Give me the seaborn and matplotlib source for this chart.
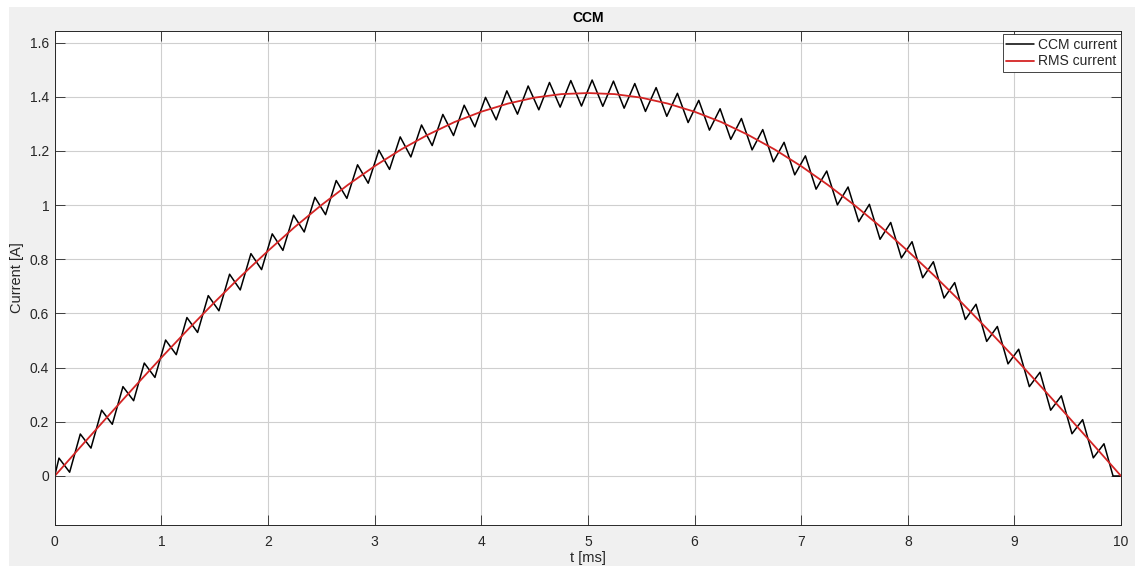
import numpy as np
import pandas as pd
import matplotlib
matplotlib.use("Agg")
import matplotlib.pyplot as plt
from matplotlib.patches import Rectangle
from matplotlib.ticker import FuncFormatter
import seaborn as sns

# switching instants of the CCM inductor current (ms) and values (A)
peak_t = [0.04, 0.24, 0.44, 0.64, 0.84, 1.04, 1.24, 1.44, 1.64, 1.84,
          2.04, 2.24, 2.44, 2.64, 2.84, 3.04, 3.24, 3.44, 3.64, 3.84,
          4.04, 4.24, 4.44, 4.64, 4.84, 5.04, 5.24, 5.44, 5.64, 5.84,
          6.04, 6.24, 6.44, 6.64, 6.84, 7.04, 7.24, 7.44, 7.64, 7.84,
          8.04, 8.24, 8.44, 8.64, 8.84, 9.04, 9.24, 9.44, 9.64, 9.84]
peak_i = [0.066, 0.155, 0.243, 0.330, 0.417, 0.502, 0.585, 0.666, 0.745, 0.821,
          0.894, 0.963, 1.029, 1.091, 1.149, 1.203, 1.252, 1.296, 1.335, 1.369,
          1.398, 1.422, 1.440, 1.453, 1.460, 1.462, 1.458, 1.449, 1.434, 1.413,
          1.387, 1.356, 1.320, 1.279, 1.232, 1.182, 1.126, 1.067, 1.003, 0.936,
          0.865, 0.791, 0.714, 0.634, 0.552, 0.468, 0.383, 0.296, 0.208, 0.119]
trough_t = [0.14, 0.34, 0.54, 0.74, 0.94, 1.14, 1.34, 1.54, 1.74, 1.94,
            2.14, 2.34, 2.54, 2.74, 2.94, 3.14, 3.34, 3.54, 3.74, 3.94,
            4.14, 4.34, 4.54, 4.74, 4.94, 5.14, 5.34, 5.54, 5.74, 5.94,
            6.14, 6.34, 6.54, 6.74, 6.94, 7.14, 7.34, 7.54, 7.74, 7.94,
            8.14, 8.34, 8.54, 8.74, 8.94, 9.14, 9.34, 9.54, 9.74]
trough_i = [0.014, 0.103, 0.191, 0.278, 0.364, 0.448, 0.530, 0.610, 0.687, 0.762,
            0.833, 0.901, 0.965, 1.025, 1.081, 1.132, 1.178, 1.220, 1.257, 1.289,
            1.315, 1.336, 1.352, 1.362, 1.366, 1.365, 1.358, 1.346, 1.328, 1.305,
            1.277, 1.243, 1.204, 1.160, 1.112, 1.059, 1.001, 0.939, 0.874, 0.805,
            0.732, 0.657, 0.578, 0.497, 0.414, 0.330, 0.243, 0.156, 0.067]
start_t, start_i = [0.0], [0.0]
end_t, end_i = [9.925, 10.0], [0.0, 0.0]

rms_t = [0.0, 0.25, 0.5, 0.75, 1.0, 1.25, 1.5, 1.75, 2.0, 2.25,
         2.5, 2.75, 3.0, 3.25, 3.5, 3.75, 4.0, 4.25, 4.5, 4.75,
         5.0, 5.25, 5.5, 5.75, 6.0, 6.25, 6.5, 6.75, 7.0, 7.25,
         7.5, 7.75, 8.0, 8.25, 8.5, 8.75, 9.0, 9.25, 9.5, 9.75, 10.0]
rms_i = [0.0, 0.111, 0.221, 0.330, 0.437, 0.541, 0.642, 0.739, 0.831, 0.919,
         1.000, 1.075, 1.144, 1.206, 1.260, 1.307, 1.345, 1.375, 1.397, 1.410,
         1.414, 1.410, 1.397, 1.375, 1.345, 1.307, 1.260, 1.206, 1.144, 1.075,
         1.000, 0.919, 0.831, 0.739, 0.642, 0.541, 0.437, 0.330, 0.221, 0.111, 0.0]

x_ticks = [0, 1, 2, 3, 4, 5, 6, 7, 8, 9, 10]
y_ticks = [0, 0.2, 0.4, 0.6, 0.8, 1.0, 1.2, 1.4, 1.6]

# build the black polyline: start, then alternating peak / trough, then clipped tail
ccm_t, ccm_i = list(start_t), list(start_i)
for k in range(len(peak_t)):
    ccm_t.append(peak_t[k]); ccm_i.append(peak_i[k])
    if k < len(trough_t):
        ccm_t.append(trough_t[k]); ccm_i.append(trough_i[k])
ccm_t += end_t
ccm_i += end_i
df_ccm = pd.DataFrame({"t": ccm_t, "i": ccm_i})
df_rms = pd.DataFrame({"t": rms_t, "i": rms_i})

sns.set_style("whitegrid")
plt.rcParams["font.family"] = ["Liberation Sans", "DejaVu Sans"]

fig = plt.figure(figsize=(11.35, 5.66), dpi=100, facecolor="white")
fig.patches.append(Rectangle((9 / 1135, 0), 1 - 9 / 1135, 1 - 7 / 566, transform=fig.transFigure,
                             facecolor="#f0f0f0", edgecolor="none", zorder=-10))
ax = fig.add_axes([0.0482, 0.0724, 0.9395, 0.8733])
ax.set_facecolor("white")

sns.lineplot(data=df_ccm, x="t", y="i", sort=False, estimator=None, color="black",
             linewidth=1.1, label="CCM current", ax=ax)
sns.lineplot(data=df_rms, x="t", y="i", sort=False, estimator=None, color="#d42424",
             linewidth=1.3, label="RMS current", ax=ax)

ax.set_xlim(0, 10)
ax.set_ylim(-0.181, 1.644)
ax.set_xticks(x_ticks)
ax.set_yticks(y_ticks)
ax.yaxis.set_major_formatter(FuncFormatter(lambda v, _: "{:g}".format(round(v, 2))))

ax.grid(True, color="#cfcfcf", linewidth=0.8)
for s in ax.spines.values():
    s.set_color("#262626")
    s.set_linewidth(0.7)
    s.set_visible(True)
ax.tick_params(direction="in", length=7, width=0.6, color="#262626", labelsize=10,
               labelcolor="#262626", top=True, right=True, bottom=True, left=True)
ax.tick_params(axis="x", pad=7)
ax.tick_params(axis="y", pad=4)

ax.set_title("CCM", fontsize=10, fontweight="bold", color="black", pad=6)
ax.set_xlabel("t [ms]", fontsize=10.5, color="#262626", labelpad=1.5)
ax.set_ylabel("Current [A]", fontsize=10.5, color="#262626", labelpad=4)

leg = ax.legend(loc="upper right", bbox_to_anchor=(0.9995, 0.993), borderaxespad=0,
                fontsize=10, frameon=True, fancybox=False, framealpha=1,
                handlelength=2.0, handletextpad=0.3, labelspacing=0.2, borderpad=0.25)
leg.get_frame().set_edgecolor("#262626")
leg.get_frame().set_linewidth(0.6)

fig.savefig("out.png", dpi=100, facecolor=fig.get_facecolor())
